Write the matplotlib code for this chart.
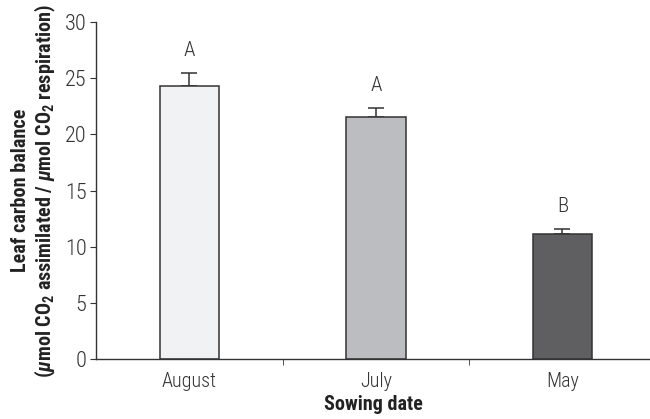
import matplotlib
matplotlib.use("Agg")
import matplotlib.pyplot as plt
from matplotlib.ticker import FixedLocator

plt.rcParams['font.family'] = ['Roboto Condensed', 'DejaVu Sans']
plt.rcParams['mathtext.fontset'] = 'custom'
plt.rcParams['mathtext.rm'] = 'Roboto Condensed:bold'
plt.rcParams['mathtext.it'] = 'Roboto Condensed:italic:bold'
plt.rcParams['mathtext.bf'] = 'Roboto Condensed:bold'

dates = ['August', 'July', 'May']
balance = [24.3, 21.6, 11.1]
err_up = [1.2, 0.8, 0.5]
letters = ['A', 'A', 'B']
colors = ['#f1f2f3', '#bcbdc0', '#5f5f61']

fig = plt.figure(figsize=(6.5, 4.19), dpi=100)
ax = fig.add_axes([0.148, 0.143, 0.852, 0.804])

x = range(len(dates))
ax.bar(x, balance, width=0.32, color=colors, edgecolor='#333333', linewidth=1.1, zorder=2)
ax.errorbar(x, balance, yerr=[[0] * 3, err_up], fmt='none', ecolor='#333333',
            elinewidth=1.1, capsize=6, capthick=1.1, zorder=1)
for i, (v, e, l) in enumerate(zip(balance, err_up, letters)):
    ax.text(i, v + e + 1.15, l, ha='center', va='bottom', fontsize=15,
            fontweight='light', color='#333333')

ax.set_xlim(-0.5, 2.47)
ax.set_ylim(0, 30)
ax.set_yticks(range(0, 31, 5))
ax.set_xticks(list(x))
ax.set_xticklabels(dates, fontweight='light')
for lab in ax.get_yticklabels():
    lab.set_fontweight('light')
ax.xaxis.set_minor_locator(FixedLocator([0.5, 1.5]))
ax.tick_params(axis='x', which='major', length=0, labelsize=14.5, pad=9, colors='#333333')
ax.tick_params(axis='x', which='minor', length=4, direction='out', color='#333333')
ax.tick_params(axis='y', length=4, direction='out', labelsize=16, colors='#333333', pad=3)

for s in ['top', 'right']:
    ax.spines[s].set_visible(False)
for s in ['left', 'bottom']:
    ax.spines[s].set_color('#333333')
    ax.spines[s].set_linewidth(1.0)

ax.set_xlabel('Sowing date', fontsize=14.5, fontweight='bold', color='#222222', labelpad=3)
ax.set_ylabel('Leaf carbon balance\n'
              r'($\mu$mol CO$_2$ assimilated / $\mu$mol CO$_2$ respiration)',
              fontsize=14.5, fontweight='bold', color='#222222', labelpad=5,
              linespacing=1.15)

fig.savefig('out.png', dpi=100)
